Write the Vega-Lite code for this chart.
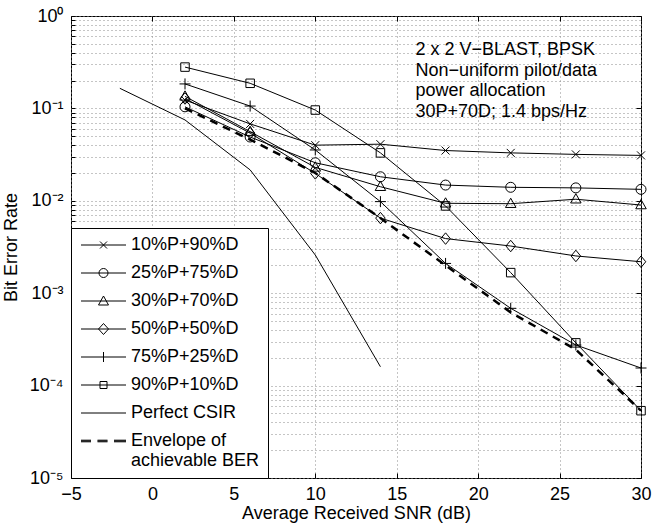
{
  "$schema": "https://vega.github.io/schema/vega-lite/v6.json",
  "width": 570,
  "height": 462,
  "autosize": {"type": "none"},
  "padding": {"left": 71, "top": 16, "right": 11, "bottom": 52},
  "config": {
    "font": "Liberation Sans",
    "view": {"stroke": "black", "strokeWidth": 1},
    "axis": {
      "labelColor": "black",
      "titleColor": "black",
      "labelFontSize": 18,
      "titleFontSize": 18,
      "titleFontWeight": "normal",
      "tickColor": "black",
      "domain": false,
      "labelFlush": false,
      "labelOverlap": false,
      "gridDash": [1, 3],
      "gridColor": "#8a8a8a",
      "gridWidth": 1
    }
  },
  "resolve": {"scale": {"shape": "independent"}},
  "datasets": {
    "d": [
      {"s": "10%P+90%D", "snr": 2, "ber": 0.123},
      {"s": "10%P+90%D", "snr": 6, "ber": 0.068},
      {"s": "10%P+90%D", "snr": 10, "ber": 0.040},
      {"s": "10%P+90%D", "snr": 14, "ber": 0.041},
      {"s": "10%P+90%D", "snr": 18, "ber": 0.035},
      {"s": "10%P+90%D", "snr": 22, "ber": 0.033},
      {"s": "10%P+90%D", "snr": 26, "ber": 0.0318},
      {"s": "10%P+90%D", "snr": 30, "ber": 0.031},
      {"s": "25%P+75%D", "snr": 2, "ber": 0.104},
      {"s": "25%P+75%D", "snr": 6, "ber": 0.049},
      {"s": "25%P+75%D", "snr": 10, "ber": 0.0258},
      {"s": "25%P+75%D", "snr": 14, "ber": 0.0182},
      {"s": "25%P+75%D", "snr": 18, "ber": 0.0148},
      {"s": "25%P+75%D", "snr": 22, "ber": 0.014},
      {"s": "25%P+75%D", "snr": 26, "ber": 0.0138},
      {"s": "25%P+75%D", "snr": 30, "ber": 0.0133},
      {"s": "30%P+70%D", "snr": 2, "ber": 0.135},
      {"s": "30%P+70%D", "snr": 6, "ber": 0.056},
      {"s": "30%P+70%D", "snr": 10, "ber": 0.023},
      {"s": "30%P+70%D", "snr": 14, "ber": 0.0142},
      {"s": "30%P+70%D", "snr": 18, "ber": 0.0094},
      {"s": "30%P+70%D", "snr": 22, "ber": 0.0093},
      {"s": "30%P+70%D", "snr": 26, "ber": 0.0104},
      {"s": "30%P+70%D", "snr": 30, "ber": 0.009},
      {"s": "50%P+50%D", "snr": 2, "ber": 0.128},
      {"s": "50%P+50%D", "snr": 6, "ber": 0.054},
      {"s": "50%P+50%D", "snr": 10, "ber": 0.0198},
      {"s": "50%P+50%D", "snr": 14, "ber": 0.0065},
      {"s": "50%P+50%D", "snr": 18, "ber": 0.0039},
      {"s": "50%P+50%D", "snr": 22, "ber": 0.00324},
      {"s": "50%P+50%D", "snr": 26, "ber": 0.00253},
      {"s": "50%P+50%D", "snr": 30, "ber": 0.00219},
      {"s": "75%P+25%D", "snr": 2, "ber": 0.184},
      {"s": "75%P+25%D", "snr": 6, "ber": 0.106},
      {"s": "75%P+25%D", "snr": 10, "ber": 0.0355},
      {"s": "75%P+25%D", "snr": 14, "ber": 0.0098},
      {"s": "75%P+25%D", "snr": 18, "ber": 0.0021},
      {"s": "75%P+25%D", "snr": 22, "ber": 0.000686},
      {"s": "75%P+25%D", "snr": 26, "ber": 0.000275},
      {"s": "75%P+25%D", "snr": 30, "ber": 0.000155},
      {"s": "90%P+10%D", "snr": 2, "ber": 0.28},
      {"s": "90%P+10%D", "snr": 6, "ber": 0.187},
      {"s": "90%P+10%D", "snr": 10, "ber": 0.096},
      {"s": "90%P+10%D", "snr": 14, "ber": 0.033},
      {"s": "90%P+10%D", "snr": 18, "ber": 0.0088},
      {"s": "90%P+10%D", "snr": 22, "ber": 0.00167},
      {"s": "90%P+10%D", "snr": 26, "ber": 0.00029},
      {"s": "90%P+10%D", "snr": 30, "ber": 0.0000535},
      {"s": "Perfect CSIR", "snr": -2, "ber": 0.165},
      {"s": "Perfect CSIR", "snr": 2, "ber": 0.075},
      {"s": "Perfect CSIR", "snr": 6, "ber": 0.0216},
      {"s": "Perfect CSIR", "snr": 10, "ber": 0.00259},
      {"s": "Perfect CSIR", "snr": 14, "ber": 0.00016},
      {"s": "Envelope of achievable BER", "snr": 2, "ber": 0.1},
      {"s": "Envelope of achievable BER", "snr": 6, "ber": 0.046},
      {"s": "Envelope of achievable BER", "snr": 10, "ber": 0.02},
      {"s": "Envelope of achievable BER", "snr": 14, "ber": 0.0065},
      {"s": "Envelope of achievable BER", "snr": 18, "ber": 0.002},
      {"s": "Envelope of achievable BER", "snr": 22, "ber": 0.00062},
      {"s": "Envelope of achievable BER", "snr": 26, "ber": 0.000245},
      {"s": "Envelope of achievable BER", "snr": 30, "ber": 0.0000535}
    ],
    "ann": [
      {"x": 16.15, "y": 0.378, "t": "2 x 2 V−BLAST, BPSK"},
      {"x": 16.15, "y": 0.224, "t": "Non−uniform pilot/data"},
      {"x": 16.15, "y": 0.1372, "t": "power allocation"},
      {"x": 16.15, "y": 0.0813, "t": "30P+70D; 1.4 bps/Hz"}
    ]
  },
  "layer": [
    {
      "data": {"name": "d"},
      "transform": [{"filter": "datum.s !== 'Envelope of achievable BER'"}],
      "mark": {"type": "line", "color": "black", "strokeWidth": 1},
      "encoding": {
        "x": {
          "field": "snr", "type": "quantitative",
          "scale": {"domain": [-5, 30], "nice": false, "zero": false},
          "axis": {
            "orient": "bottom",
            "values": [-5, 0, 5, 10, 15, 20, 25, 30],
            "grid": true,
            "tickSize": -5,
            "labelPadding": 12,
            "title": "Average Received SNR (dB)",
            "titlePadding": 1
          }
        },
        "y": {
          "field": "ber", "type": "quantitative",
          "scale": {"type": "log", "domain": [0.00001, 1], "nice": false},
          "axis": {
            "orient": "left",
            "values": [0.00001,0.00002,0.00003,0.00004,0.00005,0.00006,0.00007,0.00008,0.00009,
                       0.0001,0.0002,0.0003,0.0004,0.0005,0.0006,0.0007,0.0008,0.0009,
                       0.001,0.002,0.003,0.004,0.005,0.006,0.007,0.008,0.009,
                       0.01,0.02,0.03,0.04,0.05,0.06,0.07,0.08,0.09,
                       0.1,0.2,0.3,0.4,0.5,0.6,0.7,0.8,0.9,1],
            "grid": true,
            "tickSize": -4,
            "labelPadding": 12,
            "labelExpr": "abs(log(datum.value)/LN10 - round(log(datum.value)/LN10)) < 0.001 ? (round(log(datum.value)/LN10) == 0 ? '10⁰' : '10⁻' + ['','¹','²','³','⁴','⁵'][-round(log(datum.value)/LN10)]) : ''",
            "title": "Bit Error Rate",
            "titlePadding": 9
          }
        },
        "detail": {"field": "s"}
      }
    },
    {
      "data": {"name": "d"},
      "transform": [{"filter": "datum.s === 'Envelope of achievable BER'"}],
      "mark": {"type": "line", "color": "black", "strokeWidth": 2.5, "strokeDash": [8, 6]},
      "encoding": {
        "x": {
          "field": "snr", "type": "quantitative",
          "axis": {"orient": "top", "values": [-5, 0, 5, 10, 15, 20, 25, 30], "grid": false, "labels": false, "tickSize": -5, "title": null}
        },
        "y": {
          "field": "ber", "type": "quantitative",
          "axis": {"orient": "right", "values": [0.00001,0.0001,0.001,0.01,0.1,1], "grid": false, "labels": false, "tickSize": -5, "title": null}
        }
      }
    },
    {
      "data": {"name": "d"},
      "transform": [{"filter": "datum.s !== 'Envelope of achievable BER' && datum.s !== 'Perfect CSIR'"}],
      "mark": {"type": "point", "filled": false, "color": "black", "strokeWidth": 1, "size": 100, "opacity": 1},
      "encoding": {
        "x": {"field": "snr", "type": "quantitative", "axis": null},
        "y": {"field": "ber", "type": "quantitative", "axis": null},
        "shape": {
          "field": "s", "type": "nominal",
          "scale": {
            "domain": ["10%P+90%D", "25%P+75%D", "30%P+70%D", "50%P+50%D", "75%P+25%D", "90%P+10%D"],
            "range": [
              "M-0.8,-0.8L0.8,0.8M-0.8,0.8L0.8,-0.8",
              "circle",
              "M0,-1.1L1.05,0.75L-1.05,0.75Z",
              "M0,-1.15L0.95,0L0,1.15L-0.95,0Z",
              "M-1.1,0H1.1M0,-1.1V1.1",
              "M-0.85,-0.85H0.85V0.85H-0.85Z"
            ]
          },
          "legend": null
        }
      }
    },
    {
      "data": {"name": "d"},
      "mark": {"type": "point", "filled": false, "color": "black", "strokeWidth": 1, "size": 100, "opacity": 0},
      "encoding": {
        "x": {"field": "snr", "type": "quantitative", "axis": null},
        "y": {"field": "ber", "type": "quantitative", "axis": null},
        "shape": {
          "field": "s", "type": "nominal",
          "scale": {
            "domain": ["10%P+90%D", "25%P+75%D", "30%P+70%D", "50%P+50%D", "75%P+25%D", "90%P+10%D", "Perfect CSIR", "Envelope of achievable BER"],
            "range": [
              "M-1.4,0H7.6M2.4,-0.7L3.8,0.7M2.4,0.7L3.8,-0.7",
              "M-1.4,0H7.6M4,0A0.9,0.9,0,1,1,2.2,0A0.9,0.9,0,1,1,4,0",
              "M-1.4,0H7.6M3.1,-1L4.1,0.8L2.1,0.8Z",
              "M-1.4,0H7.6M3.1,-1.1L4.1,0L3.1,1.1L2.1,0Z",
              "M-1.4,0H7.6M3.1,-1V1",
              "M-1.4,0H7.6M2.4,-0.7H3.8V0.7H2.4Z",
              "M-1.4,0H7.6",
              "M-1.4,-0.16H0.6M-1.4,0H0.6M-1.4,0.16H0.6M1.9,-0.16H3.9M1.9,0H3.9M1.9,0.16H3.9M5.2,-0.16H7.6M5.2,0H7.6M5.2,0.16H7.6"
            ]
          },
          "legend": {
            "orient": "bottom-left",
            "offset": 0,
            "title": null,
            "strokeColor": "black",
            "fillColor": "white",
            "padding": 8,
            "labelFontSize": 18,
            "labelColor": "black",
            "labelLimit": 300,
            "symbolSize": 100,
            "symbolOpacity": 1,
            "symbolStrokeColor": "black",
            "symbolFillColor": "transparent",
            "symbolStrokeWidth": 1,
            "labelOffset": 34,
            "rowPadding": 10,
            "labelExpr": "datum.label === 'Envelope of achievable BER' ? ['Envelope of', 'achievable BER'] : datum.label"
          }
        }
      }
    },
    {
      "data": {"name": "ann"},
      "mark": {"type": "text", "align": "left", "baseline": "alphabetic", "fontSize": 18, "color": "black"},
      "encoding": {
        "x": {"field": "x", "type": "quantitative", "axis": null},
        "y": {"field": "y", "type": "quantitative", "axis": null},
        "text": {"field": "t", "type": "nominal"}
      }
    }
  ]
}
